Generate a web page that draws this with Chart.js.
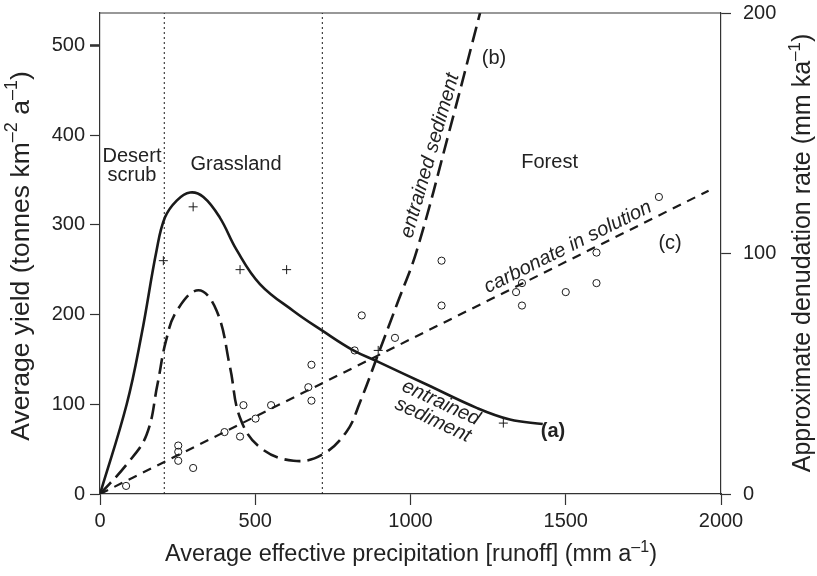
<!DOCTYPE html>
<html>
<head>
<meta charset="utf-8">
<script src="https://cdn.jsdelivr.net/npm/chart.js"></script>
<style>
  html, body { margin: 0; padding: 0; background: #fff; }
  #wrap { width: 817px; height: 576px; }
</style>
</head>
<body>
<div id="wrap"><canvas id="chart" width="817" height="576"></canvas></div>
<script>
// runoff (mm/a) vs yield (t/km2/a)
const curveA = [[0,0],[86,100],[134,178],[182,271],[209,308],[247,327],[290,336],[333,331],[386,308],[440,272],
  [515,234],[623,204],[716,182],[816,160],[891,148],[1052,122],[1213,96],[1320,83],[1426,78]];
const curveB = [[0,0],[86,33],[150,66],[185,122],[212,170],[247,204],[317,227],[376,204],[419,141],[451,85],[515,52],
  [623,37],[716,44],[795,70],[837,102],[895,155],[957,212],[1020,271],[1124,403],[1224,536]];
const curveC = [[0,0],[1960,338]];
const circlePts = [[84,9],[252,54],[252,47],[252,37],[300,29],[401,69],[451,64],[462,99],[501,84],[551,99],
  [671,119],[681,144],[681,104],[820,160],[843,199],[950,174],[1100,260],[1100,210],[1340,225],[1359,235],
  [1359,210],[1500,225],[1599,235],[1599,269],[1800,331]];
const plusPts = [[204,260],[300,320],[451,250],[601,250],[896,160],[1299,79]];
const zoneBounds = [207, 716];
const xTicks = [0, 500, 1000, 1500, 2000];
const yMax = 536;
const y1Max = 200;

// text placed in data units: [text, x, y, angleDeg, style]
const notes = [
  ["Desert\nscrub", 103, 365, 0, ""],
  ["Grassland", 438, 367, 0, ""],
  ["Forest", 1448, 369, 0, ""],
  ["(b)", 1269, 485, 0, ""],
  ["(c)", 1836, 279, 0, ""],
  ["(a)", 1459, 70, 0, "bold"],
  ["entrained sediment", 1063, 377, -74, "italic"],
  ["carbonate in solution", 1507, 275, -26.5, "italic"],
  ["entrained\nsediment", 1085, 92, 25, "italic"]
];

// axis titles, [text, superscript?]
const xTitle = [["Average effective precipitation [runoff] (mm a"], ["\u20131", 1], [")"]];
const yTitle = [["Average yield (tonnes km"], ["\u20132", 1], [" a"], ["\u20131", 1], [")"]];
const y1Title = [["Approximate denudation rate (mm ka"], ["\u20131", 1], [")"]];

const toXY = arr => arr.map(p => ({ x: p[0], y: p[1] }));
const INK = '#1a1a1a';
const FONT = "'Liberation Sans', Arial, sans-serif";

const zoneSets = zoneBounds.map(b => ({
  data: [{ x: b, y: 0 }, { x: b, y: yMax }],
  showLine: true, borderColor: INK, borderWidth: 1, borderDash: [2, 3], pointRadius: 0
}));

const noPad = s => { s.paddingTop = 0; s.paddingBottom = 0; s.paddingLeft = 0; s.paddingRight = 0; };

function drawRich(ctx, parts, cx, cy, rot, size) {
  ctx.save();
  ctx.translate(cx, cy);
  ctx.rotate(rot);
  ctx.fillStyle = '#222';
  ctx.textBaseline = 'alphabetic';
  ctx.textAlign = 'left';
  const fontFor = p => (p[1] ? Math.round(size * 0.68) : size) + 'px ' + FONT;
  let total = 0;
  parts.forEach(p => { ctx.font = fontFor(p); total += ctx.measureText(p[0]).width; });
  let x = -total / 2;
  parts.forEach(p => {
    ctx.font = fontFor(p);
    ctx.fillText(p[0], x, size * 0.36 - (p[1] ? size * 0.42 : 0));
    x += ctx.measureText(p[0]).width;
  });
  ctx.restore();
}

const framePlugin = {
  id: 'frame',
  afterDraw(chart) {
    const { ctx, chartArea: a, scales } = chart;
    ctx.save();
    ctx.strokeStyle = '#333';
    ctx.lineWidth = 1.2;
    ctx.beginPath();
    ctx.moveTo(a.left, a.top);
    ctx.lineTo(a.right, a.top);
    ctx.stroke();
    ctx.restore();

    drawRich(ctx, xTitle, 411, 553, 0, 23.5);
    drawRich(ctx, yTitle, 19, 256, -Math.PI / 2, 26.5);
    drawRich(ctx, y1Title, 801, 253, -Math.PI / 2, 25);

    notes.forEach(([text, nx, ny, ang, style]) => {
      const px = scales.x.getPixelForValue(nx);
      const py = scales.y.getPixelForValue(ny);
      ctx.save();
      ctx.translate(px, py);
      ctx.rotate(ang * Math.PI / 180);
      ctx.fillStyle = '#222';
      ctx.font = (style ? style + ' ' : '') + "20px " + FONT;
      ctx.textAlign = 'center';
      ctx.textBaseline = 'middle';
      const lines = text.split('\n');
      lines.forEach((ln, i) => ctx.fillText(ln, 0, (i - (lines.length - 1) / 2) * 19));
      ctx.restore();
    });
  }
};

new Chart(document.getElementById('chart'), {
  type: 'scatter',
  data: {
    datasets: [
      { data: toXY(curveA), showLine: true, borderColor: INK, borderWidth: 2.6, pointRadius: 0, tension: 0.4 },
      { data: toXY(curveB), showLine: true, borderColor: INK, borderWidth: 2.6, borderDash: [16, 7],
        pointRadius: 0, tension: 0.4 },
      { data: toXY(curveC), showLine: true, borderColor: INK, borderWidth: 2.2, borderDash: [9, 7], pointRadius: 0 },
      ...zoneSets,
      { data: toXY(circlePts), pointStyle: 'circle', pointRadius: 3.6, backgroundColor: 'rgba(255,255,255,0)',
        borderColor: INK, borderWidth: 1 },
      { data: toXY(plusPts), pointStyle: 'cross', pointRadius: 4.5, borderColor: INK, borderWidth: 1 }
    ]
  },
  options: {
    responsive: false,
    animation: false,
    devicePixelRatio: 1,
    layout: { padding: { top: 13, left: 0, right: 0, bottom: 0 } },
    plugins: { legend: { display: false }, tooltip: { enabled: false } },
    scales: {
      x: {
        type: 'linear', position: 'bottom', min: 0, max: 2000,
        afterBuildTicks: s => { s.ticks = xTicks.map(v => ({ value: v })); },
        afterFit: s => { s.height = 82; noPad(s); },
        ticks: { font: { size: 20, family: FONT }, color: '#222', padding: 4, maxRotation: 0,
          callback: v => String(v) },
        grid: { drawOnChartArea: false, tickLength: 11, color: '#333', tickWidth: 1.2 },
        border: { color: '#333', width: 1.2 }
      },
      y: {
        position: 'left', min: 0, max: yMax,
        afterFit: s => { s.width = 100; noPad(s); },
        ticks: { stepSize: 100, includeBounds: false, font: { size: 20, family: FONT }, color: '#222', padding: 5 },
        grid: { drawOnChartArea: false, tickLength: 10, color: '#333',
          tickWidth: c => (c.tick && c.tick.value === 500 ? 2.6 : 1.2) },
        border: { color: '#333', width: 1.2 }
      },
      y1: {
        position: 'right', min: 0, max: y1Max,
        afterFit: s => { s.width = 96; noPad(s); },
        ticks: { stepSize: 100, includeBounds: false, font: { size: 20, family: FONT }, color: '#222', padding: 12 },
        grid: { drawOnChartArea: false, tickLength: 10, color: '#333', tickWidth: 1.2 },
        border: { color: '#333', width: 1.2 }
      }
    }
  },
  plugins: [framePlugin]
});
</script>
</body>
</html>
